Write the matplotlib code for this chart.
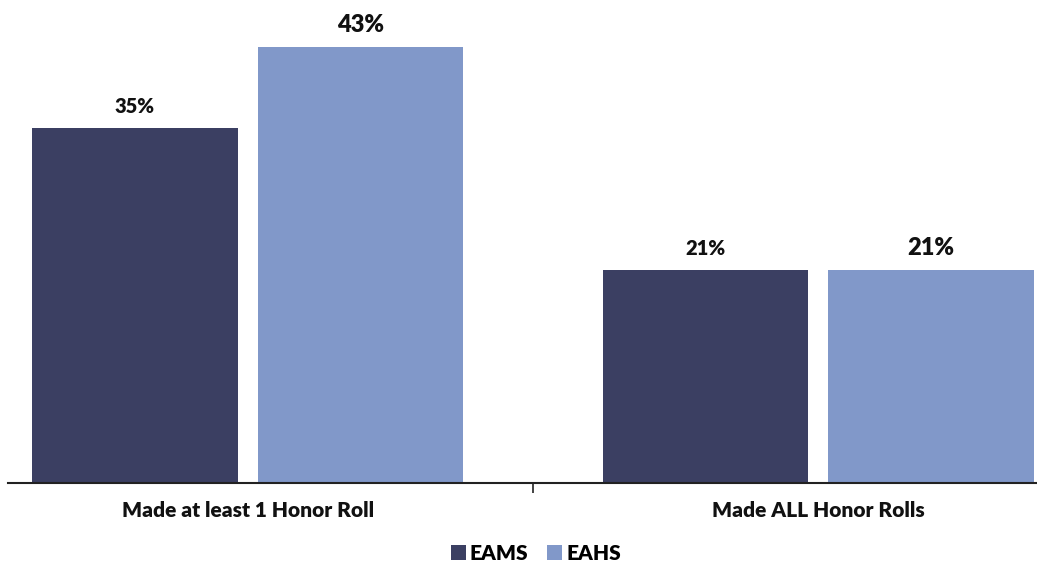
import matplotlib
matplotlib.use("Agg")
import matplotlib.pyplot as plt
import numpy as np

categories = ["Made at least 1 Honor Roll", "Made ALL Honor Rolls"]
series_names = ["EAMS", "EAHS"]
eams = [35, 21]
eahs = [43, 21]
colors = ["#3b3f62", "#8198c9"]

plt.rcParams['font.family'] = ['Lato', 'DejaVu Sans']
WEIGHT = "heavy"

fig = plt.figure(figsize=(10.37, 5.63), dpi=100)
ax = fig.add_axes([8/1037, 80/563, 1 - 8/1037, 483/563])

x = np.arange(len(categories))
w = 0.36
off = 0.1976
b1 = ax.bar(x - off, eams, w, color=colors[0], label=series_names[0])
b2 = ax.bar(x + off, eahs, w, color=colors[1], label=series_names[1])

for rect, v in zip(b1, eams):
    ax.text(rect.get_x() + rect.get_width()/2, v + 1.48, f"{v}%", ha="center", va="baseline",
            fontsize=14.5, fontweight=WEIGHT, color="#111111")
for rect, v in zip(b2, eahs):
    ax.text(rect.get_x() + rect.get_width()/2, v + 1.48, f"{v}%", ha="center", va="baseline",
            fontsize=17, fontweight=WEIGHT, color="#111111")

ax.set_xlim(-0.42, 1.383)
ax.set_ylim(0, 47.6)
for s in ["top", "right", "left"]:
    ax.spines[s].set_visible(False)
ax.spines["bottom"].set_color("#222222")
ax.spines["bottom"].set_linewidth(1.5)
ax.set_yticks([])
ax.set_xticks([0.5])
ax.set_xticklabels([""])
ax.tick_params(axis="x", length=7, width=1.2, color="#222222")
for xi, c in zip(x, categories):
    ax.text(xi, -2.75, c, ha="center", va="center", fontsize=15, fontweight=WEIGHT,
            color="#111111", transform=ax.transData)

leg = fig.legend(handles=[b1, b2], labels=series_names, loc="center", bbox_to_anchor=(536/1037, 1 - 553/563),
                 ncol=2, frameon=False, handlelength=0.72, handleheight=0.72,
                 handletextpad=0.2, columnspacing=0.9, prop={"weight": WEIGHT, "size": 15})
fig.savefig("out.png", dpi=100)
